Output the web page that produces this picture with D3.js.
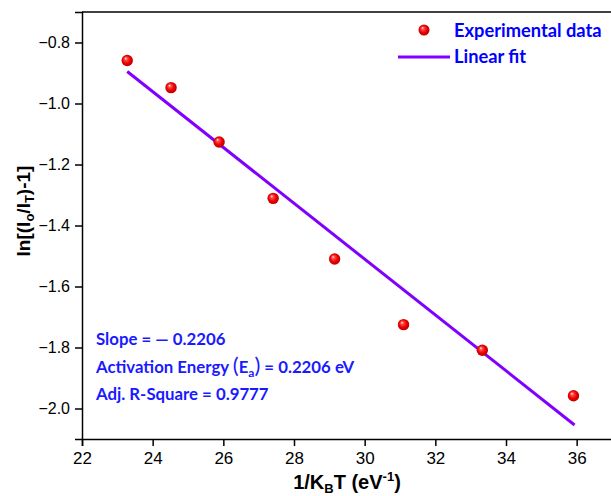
<!DOCTYPE html>
<html><head><meta charset="utf-8">
<script src="https://cdn.jsdelivr.net/npm/d3@7"></script>
<style>body{margin:0;background:#fff}svg{display:block}</style>
</head><body>
<svg id="c" width="611" height="496"></svg>
<script>
const xValues = [23.28, 24.52, 25.88, 27.41, 29.15, 31.10, 33.33, 35.91];
const yValues = [-0.859, -0.948, -1.126, -1.311, -1.510, -1.725, -1.809, -1.958];
const fitX = [23.28, 35.94];
const fitY = [-0.895, -2.054];
const xTicks = [22, 24, 26, 28, 30, 32, 34, 36];
const yTicks = [-0.8, -1.0, -1.2, -1.4, -1.6, -1.8, -2.0];
const legendLabels = ["Experimental data", "Linear fit"];

const svg = d3.select("#c");
const L = 82, R = 612, T = 12, B = 439;
const x = d3.scaleLinear().domain([22, 37]).range([L, R]);
const y = d3.scaleLinear().domain([-2.1, -0.7]).range([B, T]);

const defs = svg.append("defs");
const g = defs.append("radialGradient").attr("id","ball").attr("cx","50%").attr("cy","50%").attr("r","55%").attr("fx","35%").attr("fy","30%");
g.append("stop").attr("offset","0%").attr("stop-color","#ffffff");
g.append("stop").attr("offset","22%").attr("stop-color","#ff5050");
g.append("stop").attr("offset","60%").attr("stop-color","#f00000");
g.append("stop").attr("offset","100%").attr("stop-color","#b00000");

svg.append("line").attr("x1",L).attr("x2",R).attr("y1",T).attr("y2",T).attr("stroke","#000").attr("stroke-width",1.5);
svg.append("line").attr("x1",R).attr("x2",R).attr("y1",T).attr("y2",B).attr("stroke","#000").attr("stroke-width",1.5);

const fmt = d => (d < 0 ? "\u2212" : "") + Math.abs(d).toFixed(1);
const yAxis = svg.append("g").attr("transform",`translate(${L},0)`)
  .call(d3.axisLeft(y).tickValues(yTicks).tickFormat(fmt).tickSize(7).tickPadding(5));
const xAxis = svg.append("g").attr("transform",`translate(0,${B})`)
  .call(d3.axisBottom(x).tickValues(xTicks).tickFormat(d3.format("d")).tickSize(7).tickPadding(6));
[xAxis, yAxis].forEach(a => {
  a.select(".domain").attr("stroke-width",1.5);
  a.selectAll(".tick line").attr("stroke-width",1.5);
  a.selectAll("text").attr("font-family","Liberation Sans, Arial, sans-serif").attr("fill","#000");
});
xAxis.selectAll("text").attr("font-size",17);
yAxis.selectAll("text").attr("font-size",16);

svg.append("path").datum(fitX.map((v,i)=>[v, fitY[i]]))
  .attr("d", d3.line().x(d=>x(d[0])).y(d=>y(d[1])))
  .attr("stroke","#8000ff").attr("stroke-width",3).attr("fill","none");

svg.selectAll("circle.pt").data(xValues.map((v,i)=>[v,yValues[i]])).enter()
  .append("circle").attr("class","pt").attr("cx",d=>x(d[0])).attr("cy",d=>y(d[1])).attr("r",5.7)
  .attr("fill","url(#ball)");

const lf = "Lato, 'Open Sans', sans-serif";
svg.append("circle").attr("cx",424).attr("cy",30).attr("r",5.5).attr("fill","url(#ball)");
svg.append("line").attr("x1",398).attr("x2",450).attr("y1",57).attr("y2",57).attr("stroke","#8000ff").attr("stroke-width",3);
svg.append("text").attr("x",454).attr("y",37).text(legendLabels[0]).attr("font-family",lf).attr("font-weight","bold").attr("font-size",18.3).attr("fill","#0000ff");
svg.append("text").attr("x",454).attr("y",63).text(legendLabels[1]).attr("font-family",lf).attr("font-weight","bold").attr("font-size",18.3).attr("fill","#0000ff");

const ac = "#1a1aff";
function ann(yy){ return svg.append("text").attr("x",96).attr("y",yy).attr("font-family",lf).attr("font-weight","bold").attr("font-size",16.8).attr("fill",ac); }
ann(345).text("Slope = \u2014 0.2206");
const t2 = ann(373);
t2.append("tspan").text("Activation Energy ");
t2.append("tspan").text("(").attr("font-size",22).attr("font-weight","normal");
t2.append("tspan").text("E");
t2.append("tspan").text("a").attr("font-size",12).attr("dy",4);
t2.append("tspan").text(")").attr("font-size",22).attr("font-weight","normal").attr("dy",-4);
t2.append("tspan").text(" = 0.2206 eV");
ann(400).text("Adj. R-Square = 0.9777");

const af = "Liberation Sans, Arial, sans-serif";
const xt = svg.append("text").attr("x",347).attr("y",489).attr("text-anchor","middle")
  .attr("font-family",af).attr("font-weight","bold").attr("font-size",20).attr("fill","#000");
xt.append("tspan").text("1/K");
xt.append("tspan").text("B").attr("font-size",13).attr("dy",4);
xt.append("tspan").text("T (eV").attr("dy",-4);
xt.append("tspan").text("-1").attr("font-size",13).attr("dy",-8);
xt.append("tspan").text(")").attr("dy",8);

const yt = svg.append("text").attr("transform","translate(30,211) rotate(-90)").attr("text-anchor","middle")
  .attr("font-family",af).attr("font-weight","bold").attr("font-size",19).attr("fill","#000");
yt.append("tspan").text("ln[(I");
yt.append("tspan").text("o").attr("font-size",13).attr("dy",4);
yt.append("tspan").text("/I").attr("dy",-4);
yt.append("tspan").text("T").attr("font-size",13).attr("dy",4);
yt.append("tspan").text(")-1]").attr("dy",-4);
</script>
</body></html>
